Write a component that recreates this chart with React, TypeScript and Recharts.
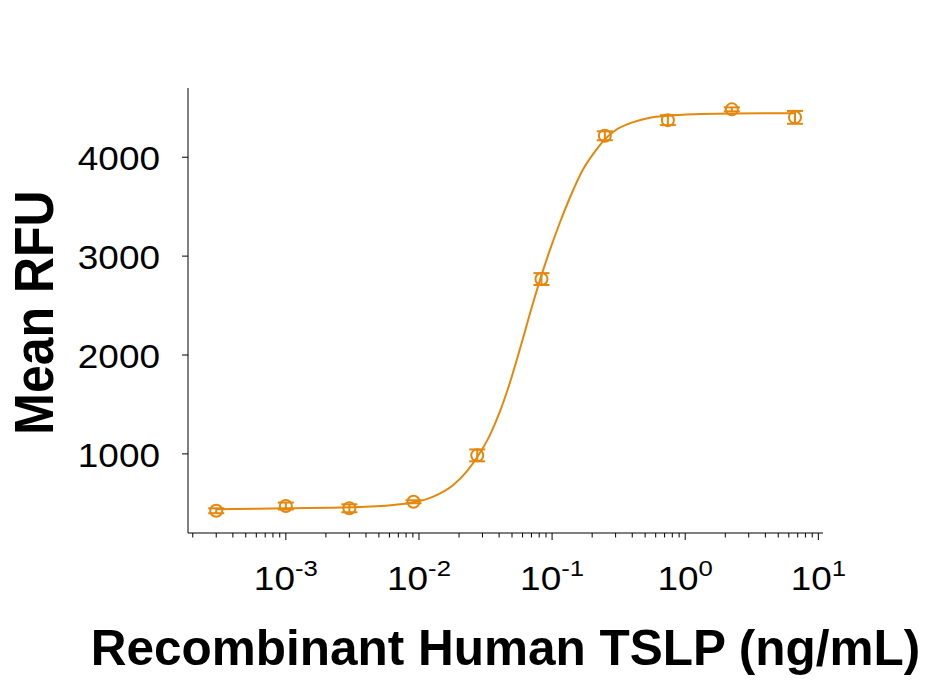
import { ComposedChart, Line, Scatter, ErrorBar, XAxis, YAxis } from 'recharts';

// TSLP concentrations (ng/mL) and measured responses
const concentrations = [0.0003, 0.001, 0.003, 0.0091, 0.0274, 0.0832, 0.249, 0.741, 2.24, 6.68];
const meanRfu = [425, 473, 450, 516, 985, 2768, 4217, 4375, 4484, 4403];
const sdRfu = [25, 35, 40, 15, 60, 60, 45, 50, 20, 65];

// fitted curve
const curveConc = [
  0.000301, 0.001, 0.00303, 0.0064, 0.0092, 0.0128, 0.0181, 0.0228, 0.0275, 0.0341, 0.0406,
  0.0482, 0.0573, 0.0721, 0.0834, 0.0962, 0.1145, 0.136, 0.1714, 0.216, 0.249, 0.305, 0.407,
  0.543, 0.738, 1.29, 2.3, 6.68,
];
const curveRfu = [
  440, 450, 460, 483, 510, 567, 685, 820, 971, 1190, 1430, 1720, 2060, 2530, 2810, 3060, 3340,
  3590, 3880, 4080, 4180, 4280, 4355, 4400, 4420, 4436, 4443, 4445,
];

const majorTicks = [0.001, 0.01, 0.1, 1, 10];
const majorExponents = ['-3', '-2', '-1', '0', '1'];
const minorTicks = [
  0.0002, 0.0003, 0.0004, 0.0005, 0.0006, 0.0007, 0.0008, 0.0009,
  0.002, 0.003, 0.004, 0.005, 0.006, 0.007, 0.008, 0.009,
  0.02, 0.03, 0.04, 0.05, 0.06, 0.07, 0.08, 0.09,
  0.2, 0.3, 0.4, 0.5, 0.6, 0.7, 0.8, 0.9,
  2, 3, 4, 5, 6, 7, 8, 9,
];
const yTicks = [1000, 2000, 3000, 4000];

const ORANGE = '#E6870C';
const FONT = '"Liberation Sans", Arial, sans-serif';

const points = concentrations.map((c, i) => ({ x: c, y: meanRfu[i], err: sdRfu[i] }));
const curve = curveConc.map((c, i) => ({ x: c, y: curveRfu[i] }));

function XTick(props: any) {
  const { x, y, payload } = props;
  const i = majorTicks.indexOf(payload.value);
  const major = i >= 0;
  return (
    <g transform={`translate(${x},${y})`}>
      <line x1={0} y1={0} x2={0} y2={major ? 7 : 4.5} stroke="#000" strokeWidth={1} />
      {major && (
        <text
          x={0}
          y={57}
          textAnchor="middle"
          fontSize={33}
          fontFamily={FONT}
          fill="#000"
          transform="scale(1.12,1)"
        >
          <tspan>10</tspan>
          <tspan fontSize={23} dy={-14}>
            {majorExponents[i]}
          </tspan>
        </text>
      )}
    </g>
  );
}

function YTick(props: any) {
  const { x, y, payload } = props;
  return (
    <text
      x={0}
      y={13}
      textAnchor="end"
      fontSize={33}
      fontFamily={FONT}
      fill="#000"
      transform={`translate(${x},${y}) scale(1.12,1)`}
    >
      {payload.value}
    </text>
  );
}

function Dot(props: any) {
  const { cx, cy } = props;
  return <circle cx={cx} cy={cy} r={6} fill="none" stroke={ORANGE} strokeWidth={2} />;
}

export default function App() {
  return (
    <div style={{ position: 'absolute', left: 0, top: 0, width: 927, height: 680, background: '#fff' }}>
      <ComposedChart width={927} height={680} margin={{ top: 88, right: 104, bottom: 87, left: 88 }}>
        <XAxis
          dataKey="x"
          type="number"
          scale="log"
          domain={[0.0001841, 10.84]}
          allowDataOverflow
          ticks={[...minorTicks, ...majorTicks]}
          interval={0}
          tick={<XTick />}
          tickLine={false}
          tickSize={0}
          tickMargin={0}
          height={60}
          stroke="#000"
          label={{
            content: () => (
              <text
                x={505.5}
                y={665}
                textAnchor="middle"
                fontSize={49.5}
                fontWeight="bold"
                fontFamily={FONT}
                fill="#000"
              >
                Recombinant Human TSLP (ng/mL)
              </text>
            ),
          }}
        />
        <YAxis
          type="number"
          domain={[200, 4700]}
          allowDataOverflow
          ticks={yTicks}
          interval={0}
          width={100}
          tickSize={6}
          tickMargin={22}
          tick={<YTick />}
          stroke="#000"
          label={{
            content: () => (
              <text
                x={0}
                y={18}
                textAnchor="middle"
                fontSize={50}
                fontWeight="bold"
                fontFamily={FONT}
                fill="#000"
                transform="translate(32.5,312.5) rotate(-90) scale(1,1.12)"
              >
                Mean RFU
              </text>
            ),
          }}
        />
        <Line
          data={curve}
          dataKey="y"
          type="monotone"
          stroke={ORANGE}
          strokeWidth={2}
          dot={false}
          activeDot={false}
          isAnimationActive={false}
        />
        <Scatter data={points} dataKey="y" shape={<Dot />} isAnimationActive={false}>
          <ErrorBar dataKey="err" direction="y" width={8} stroke={ORANGE} strokeWidth={2} isAnimationActive={false} />
        </Scatter>
      </ComposedChart>
    </div>
  );
}
